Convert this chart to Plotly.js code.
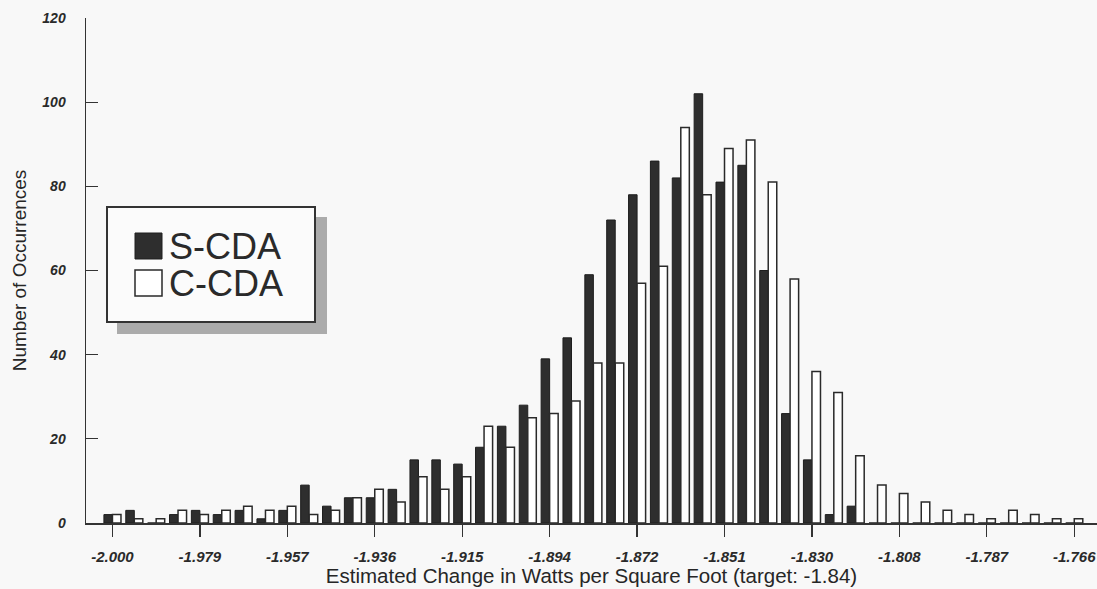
<!DOCTYPE html>
<html>
<head>
<meta charset="utf-8">
<script src="https://cdn.plot.ly/plotly-3.0.1.min.js"></script>
<style>
html,body{margin:0;padding:0;background:#f8f8f8;}
#chart{width:1097px;height:589px;}
</style>
</head>
<body>
<div id="chart"></div>
<script>
// Bin centres (watts per square foot)
const binCenters = [
  '-2.000','-1.995','-1.989','-1.984','-1.979','-1.973','-1.968','-1.963',
  '-1.957','-1.952','-1.947','-1.941','-1.936','-1.931','-1.926','-1.920',
  '-1.915','-1.910','-1.904','-1.899','-1.894','-1.888','-1.883','-1.878',
  '-1.872','-1.867','-1.862','-1.856','-1.851','-1.846','-1.840','-1.835',
  '-1.830','-1.824','-1.819','-1.814','-1.808','-1.803','-1.798','-1.792',
  '-1.787','-1.782','-1.776','-1.771','-1.766'
];
// Number of occurrences per bin
const sCDA = [
  2,3,0,2,3,2,3,1,
  3,9,4,6,6,8,15,15,
  14,18,23,28,39,44,59,72,
  78,86,82,102,81,85,60,26,
  15,2,4,0,0,0,0,0,
  0,0,0,0,0
];
const cCDA = [
  2,1,1,3,2,3,4,3,
  4,2,3,6,8,5,11,8,
  11,23,18,25,26,29,38,38,
  57,61,94,78,89,91,81,58,
  36,31,16,9,7,5,3,2,
  1,3,2,1,1
];
const tickLabels = ['-2.000','-1.979','-1.957','-1.936','-1.915','-1.894',
                    '-1.872','-1.851','-1.830','-1.808','-1.787','-1.766'];
const seriesNames = ['S-CDA','C-CDA'];
const yTicks = [0,20,40,60,80,100,120];

// pixel -> paper helpers for the legend box (plot area 86..1097 x 18..523)
const L = 86, R = 0, T = 18, B = 66, W = 1097, H = 589;
const pw = W - L - R, ph = H - T - B;
const px = v => (v - L) / pw;
const py = v => (H - B - v) / ph;

const FONT = '"Liberation Sans", Arial, Helvetica, sans-serif';

const traces = [
  {
    type: 'bar', name: seriesNames[0], x: binCenters, y: sCDA,
    marker: {color: '#2e2e2e', line: {color: '#1e1e1e', width: 1}},
    showlegend: false, hoverinfo: 'x+y+name'
  },
  {
    type: 'bar', name: seriesNames[1], x: binCenters, y: cCDA,
    marker: {color: '#ffffff', line: {color: '#2a2a2a', width: 1.5}},
    showlegend: false, hoverinfo: 'x+y+name'
  }
];

const layout = {
  width: W, height: H,
  margin: {l: L, r: R, t: T, b: B, pad: 0},
  paper_bgcolor: '#f8f8f8', plot_bgcolor: '#f8f8f8',
  barmode: 'group', bargap: 0.22, bargroupgap: 0,
  font: {family: FONT, color: '#2a2a2a'},
  xaxis: {
    type: 'category', range: [-1.21, 45.04],
    tickmode: 'array', tickvals: tickLabels, ticktext: tickLabels,
    ticks: 'outside', ticklen: 12, tickwidth: 1.3, tickcolor: '#333',
    showline: true, linecolor: '#333', linewidth: 1.5,
    showgrid: false, zeroline: false,
    tickfont: {family: FONT, size: 15, weight: 'bold', style: 'italic', color: '#2a2a2a'},
    ticklabelstandoff: 7,
    title: {text: 'Estimated Change in Watts per Square Foot (target: -1.84)',
            font: {family: FONT, size: 20.5, color: '#262626'}, standoff: 2},
    automargin: false
  },
  yaxis: {
    range: [0, 120], tickmode: 'array', tickvals: yTicks,
    ticks: 'inside', ticklen: 12, tickwidth: 1.3, tickcolor: '#333',
    showline: true, linecolor: '#333', linewidth: 1.5,
    showgrid: false, zeroline: false,
    tickfont: {family: FONT, size: 14, weight: 'bold', style: 'italic', color: '#2a2a2a'},
    ticklabelstandoff: 16,
    title: {text: 'Number of Occurrences',
            font: {family: FONT, size: 19, color: '#262626'}, standoff: 10},
    automargin: false
  },
  shapes: [
    // legend shadow
    {type: 'rect', xref: 'paper', yref: 'paper', layer: 'above',
     x0: px(117), x1: px(327), y0: py(334), y1: py(217),
     fillcolor: '#ababab', line: {width: 0}},
    // legend box
    {type: 'rect', xref: 'paper', yref: 'paper', layer: 'above',
     x0: px(107), x1: px(315), y0: py(322), y1: py(207),
     fillcolor: '#fbfbfb', line: {color: '#333', width: 2}},
    // legend swatches
    {type: 'rect', xref: 'paper', yref: 'paper', layer: 'above',
     x0: px(135), x1: px(162), y0: py(259), y1: py(233),
     fillcolor: '#2e2e2e', line: {color: '#1e1e1e', width: 1}},
    {type: 'rect', xref: 'paper', yref: 'paper', layer: 'above',
     x0: px(135), x1: px(162), y0: py(296), y1: py(270),
     fillcolor: '#ffffff', line: {color: '#2a2a2a', width: 1.5}}
  ],
  annotations: [
    {xref: 'paper', yref: 'paper', x: px(167), y: py(247), xanchor: 'left', yanchor: 'middle',
     text: seriesNames[0], showarrow: false, font: {family: FONT, size: 36, color: '#2a2a2a'}},
    {xref: 'paper', yref: 'paper', x: px(167), y: py(283), xanchor: 'left', yanchor: 'middle',
     text: seriesNames[1], showarrow: false, font: {family: FONT, size: 36, color: '#2a2a2a'}}
  ],
  showlegend: false
};

Plotly.newPlot('chart', traces, layout, {displayModeBar: false, staticPlot: true});
</script>
</body>
</html>
